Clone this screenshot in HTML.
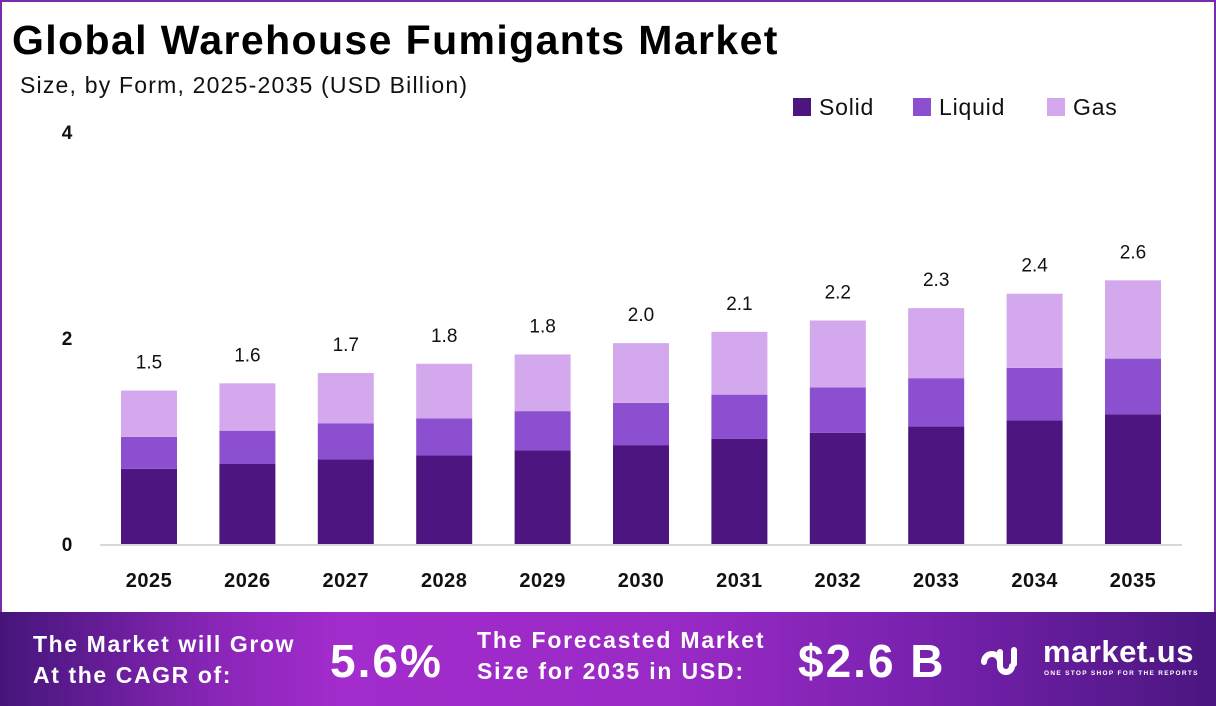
<!DOCTYPE html>
<html><head><meta charset="utf-8">
<style>
html,body{margin:0;padding:0;}
body{width:1216px;height:706px;overflow:hidden;background:#fff;font-family:"Liberation Sans",sans-serif;position:relative;}
#frame{position:absolute;left:0;top:0;width:1212px;height:612px;border:2px solid #7b2aa8;border-bottom:none;}
#title{position:absolute;left:12px;top:17px;font-size:41px;font-weight:bold;color:#000;letter-spacing:1.4px;}
#subtitle{position:absolute;left:20px;top:72px;font-size:23px;color:#111;letter-spacing:1.2px;}
#footer{position:absolute;left:0;top:612px;width:1216px;height:94px;background:linear-gradient(90deg,#45157a 0%,#8a26b8 18%,#a22ccc 28%,#9a2ac6 55%,#7a22b0 75%,#4a1680 100%);color:#fff;font-weight:bold;}
.ft{position:absolute;font-size:23px;line-height:31px;}
.big{position:absolute;font-size:46px;top:22px;letter-spacing:2px;}
</style></head><body>
<div id="frame"></div>
<div id="title">Global Warehouse Fumigants Market</div>
<div id="subtitle">Size, by Form, 2025-2035 (USD Billion)</div>
<svg id="chart" width="1216" height="612" style="position:absolute;left:0;top:0"></svg>
<div id="footer">
  <div class="ft" style="left:33px;top:17px;letter-spacing:1.6px">The Market will Grow<br>At the CAGR of:</div>
  <div class="big" style="left:330px">5.6%</div>
  <div class="ft" style="left:477px;top:13px;letter-spacing:1.8px">The Forecasted Market<br>Size for 2035 in USD:</div>
  <div class="big" style="left:798px">$2.6 B</div>
  <div style="position:absolute;left:980px;top:28px;width:40px;height:36px">
    <svg width="40" height="40"><path d="M4 22 a8 8 0 0 1 16 0 v2 M20 12 v14 a6 6 0 0 0 12 0" stroke="#fff" stroke-width="6" fill="none" stroke-linecap="round"/><line x1="34" y1="10" x2="34" y2="24" stroke="#fff" stroke-width="6" stroke-linecap="round"/></svg>
  </div>
  <div style="position:absolute;left:1043px;top:22px;font-size:31px;letter-spacing:0.5px">market.us</div>
  <div style="position:absolute;left:1044px;top:58px;font-size:6.5px;letter-spacing:1.3px">ONE STOP SHOP FOR THE REPORTS</div>
</div>
<script>
const years=["2025","2026","2027","2028","2029","2030","2031","2032","2033","2034","2035"];
const solid=[0.73,0.78,0.82,0.86,0.91,0.96,1.02,1.08,1.14,1.20,1.26];
const liquid=[0.31,0.32,0.35,0.36,0.38,0.41,0.43,0.44,0.47,0.51,0.54];
const gas=[0.45,0.46,0.49,0.53,0.55,0.58,0.61,0.65,0.68,0.72,0.76];
const totalLabels=["1.5","1.6","1.7","1.8","1.8","2.0","2.1","2.2","2.3","2.4","2.6"];
const yTicks=[0,2,4];
const seriesNames=["Solid","Liquid","Gas"];
const colors=["#4c1580","#8b4fcf","#d4a8ec"];
const svg=document.getElementById('chart');
const NS="http://www.w3.org/2000/svg";
const y0=544,pxPerUnit=103;
const yScale=v=>y0-v*pxPerUnit;
const xCenter=i=>149+i*98.4;
const bw=56;
function mk(t,a){const e=document.createElementNS(NS,t);for(const k in a)e.setAttribute(k,a[k]);svg.appendChild(e);return e;}
yTicks.forEach(v=>{const t=mk('text',{x:67,y:yScale(v)+7,'font-size':19,'font-weight':'bold','text-anchor':'middle',fill:'#111'});t.textContent=v;

});
const ax=mk('line',{x1:100,x2:1182,y1:y0+1,y2:y0+1,stroke:'#ccc','stroke-width':1.5});


const series=[solid,liquid,gas];
years.forEach((yr,i)=>{let base=0;
 series.forEach((s,k)=>{const r=mk('rect',{x:xCenter(i)-bw/2,y:yScale(base+s[i]),width:bw,height:s[i]*pxPerUnit,fill:colors[k]});
 
 
 base+=s[i];});
 const lt=mk('text',{x:xCenter(i),y:yScale(base)-22,'font-size':19,'text-anchor':'middle',fill:'#111'});lt.textContent=totalLabels[i];
 
 
 const xt=mk('text',{x:xCenter(i),y:587,'font-size':20,'font-weight':'bold','text-anchor':'middle',fill:'#111','letter-spacing':0.5});xt.textContent=yr;
 
 
});
const legX=[793,913,1047];
seriesNames.forEach((n,k)=>{const r=mk('rect',{x:legX[k],y:98,width:18,height:18,fill:colors[k]});
 
 
 const t=mk('text',{x:legX[k]+26,y:115,'font-size':23,fill:'#111','letter-spacing':0.8});t.textContent=n;
 
 });
</script>
</body></html>
